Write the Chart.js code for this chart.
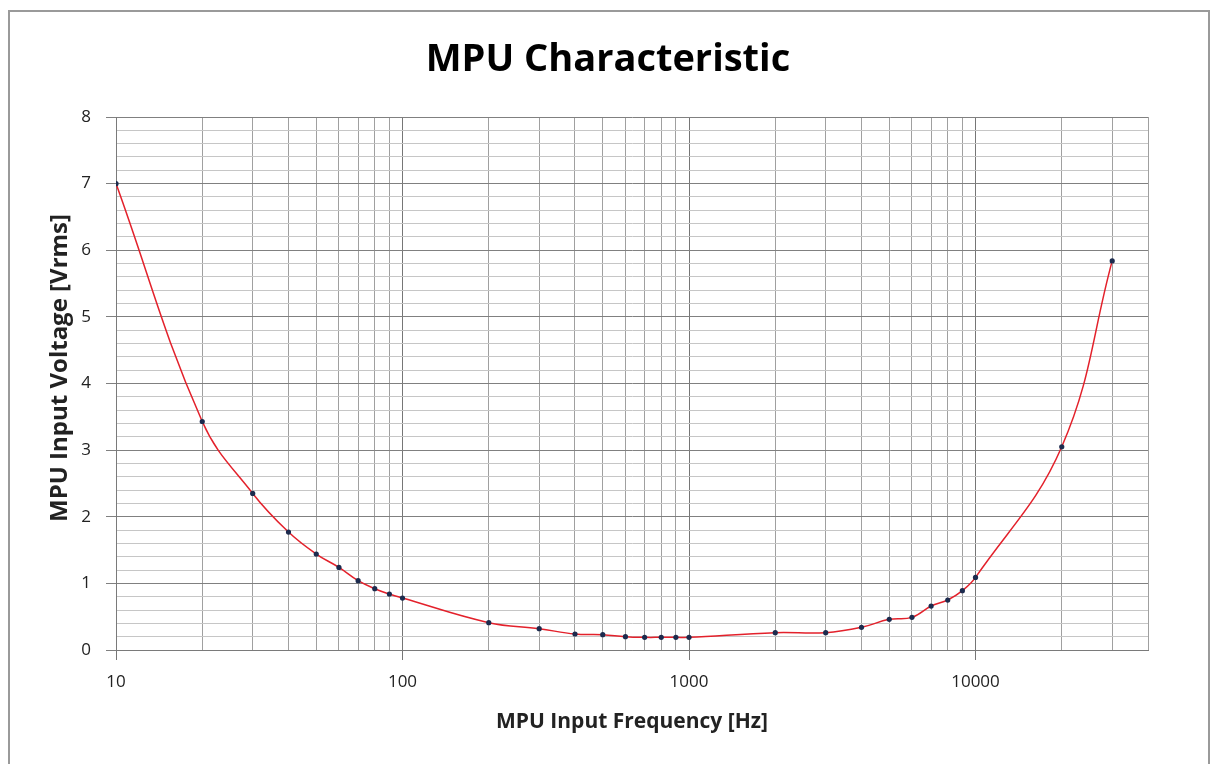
<!DOCTYPE html>
<html>
<head>
<meta charset="utf-8">
<script src="https://cdn.jsdelivr.net/npm/chart.js@4/dist/chart.umd.min.js"></script>
<style>
  html, body { margin: 0; padding: 0; background: #ffffff; }
  #wrap { position: absolute; left: 0; top: 0; width: 1218px; height: 764px; }
</style>
</head>
<body>
<div id="wrap"><canvas id="c" width="1218" height="764"></canvas></div>
<script>
// ---- data ----
const frequencies = [10, 20, 30, 40, 50, 60, 70, 80, 90, 100,
                     200, 300, 400, 500, 600, 700, 800, 900, 1000,
                     2000, 3000, 4000, 5000, 6000, 7000, 8000, 9000, 10000,
                     20000, 30000];
const voltages = [7.00, 3.43, 2.35, 1.77, 1.44, 1.24, 1.04, 0.92, 0.84, 0.78,
                  0.41, 0.32, 0.24, 0.23, 0.20, 0.19, 0.19, 0.19, 0.19,
                  0.26, 0.26, 0.34, 0.46, 0.49, 0.66, 0.75, 0.89, 1.09,
                  3.05, 5.84];
const xDecadeLabels = [10, 100, 1000, 10000];
const xGridValues = [10, 20, 30, 40, 50, 60, 70, 80, 90,
                     100, 200, 300, 400, 500, 600, 700, 800, 900,
                     1000, 2000, 3000, 4000, 5000, 6000, 7000, 8000, 9000,
                     10000, 20000, 30000, 40000];
const yTickLabels = [0, 1, 2, 3, 4, 5, 6, 7, 8];

const chartTitle = 'MPU Characteristic';
const xTitle = 'MPU Input Frequency [Hz]';
const yTitle = 'MPU Input Voltage [Vrms]';

const FONT = "'Open Sans', 'Noto Sans', sans-serif";
const isInt = v => Math.abs(v - Math.round(v)) < 1e-6;

const framePlugin = {
  id: 'frame',
  beforeDraw(chart) {
    const ctx = chart.ctx;
    ctx.save();
    ctx.fillStyle = '#ffffff';
    ctx.fillRect(0, 0, chart.width, chart.height);
    ctx.restore();
  },
  afterDraw(chart) {
    const ctx = chart.ctx;
    ctx.save();
    ctx.strokeStyle = '#9a9a9a';
    ctx.lineWidth = 2;
    ctx.strokeRect(9, 11, 1200, 800);
    ctx.fillStyle = '#000000';
    ctx.font = "bold 38px " + FONT;
    ctx.textAlign = 'center';
    ctx.textBaseline = 'middle';
    ctx.fillText(chartTitle, 608, 60);
    // y axis title
    ctx.translate(60, 368);
    ctx.rotate(-Math.PI / 2);
    ctx.fillStyle = '#222222';
    ctx.font = "bold 24px " + FONT;
    ctx.fillText(yTitle, 0, 0);
    ctx.restore();
  }
};

new Chart(document.getElementById('c'), {
  type: 'line',
  data: {
    datasets: [{
      data: frequencies.map((f, i) => ({ x: f, y: voltages[i] })),
      borderColor: '#e3212b',
      borderWidth: 1.5,
      pointRadius: 2.6,
      pointBackgroundColor: '#1c2b4e',
      pointBorderColor: '#1c2b4e',
      pointBorderWidth: 0,
      tension: 0.4,
      fill: false
    }]
  },
  options: {
    responsive: false,
    animation: false,
    layout: { padding: { left: 0, right: 70, top: 117, bottom: 0 } },
    plugins: {
      legend: { display: false },
      tooltip: { enabled: false },
      title: { display: false }
    },
    scales: {
      x: {
        type: 'logarithmic',
        min: 10,
        max: 40000,
        afterBuildTicks(scale) {
          scale.ticks = xGridValues.map(v => ({ value: v, major: xDecadeLabels.includes(v) }));
        },
        afterFit(scale) { scale.height = 114; },
        ticks: {
          autoSkip: false,
          maxRotation: 0,
          minRotation: 0,
          padding: 12,
          color: '#222222',
          font: { family: FONT, size: 17 },
          callback: (value) => xDecadeLabels.includes(value) ? String(value) : ''
        },
        grid: {
          color: (ctx) => (ctx.tick && xDecadeLabels.includes(ctx.tick.value)) ? '#767676' : '#a0a0a0',
          tickColor: (ctx) => (ctx.tick && xDecadeLabels.includes(ctx.tick.value)) ? '#767676' : 'rgba(0,0,0,0)',
          tickLength: 10,
          lineWidth: 1
        },
        border: { color: '#7a7a7a', width: 1 },
        title: {
          display: true,
          text: xTitle,
          color: '#222222',
          font: { family: FONT, size: 21, weight: 'bold' },
          padding: { top: 0, bottom: 29 }
        }
      },
      y: {
        type: 'linear',
        min: 0,
        max: 8,
        afterFit(scale) { scale.width = 116; },
        ticks: {
          stepSize: 0.2,
          autoSkip: false,
          padding: 15,
          color: '#222222',
          font: { family: FONT, size: 17 },
          callback: (value) => {
            const r = Math.round(value);
            return (isInt(value) && yTickLabels.includes(r)) ? String(r) : '';
          }
        },
        grid: {
          color: (ctx) => (ctx.tick && isInt(ctx.tick.value)) ? '#808080' : '#c6c6c6',
          tickColor: (ctx) => (ctx.tick && isInt(ctx.tick.value)) ? '#808080' : 'rgba(0,0,0,0)',
          tickLength: 10,
          lineWidth: 1
        },
        border: { color: '#7a7a7a', width: 1 },
        title: { display: false }
      }
    }
  },
  plugins: [framePlugin]
});
</script>
</body>
</html>
